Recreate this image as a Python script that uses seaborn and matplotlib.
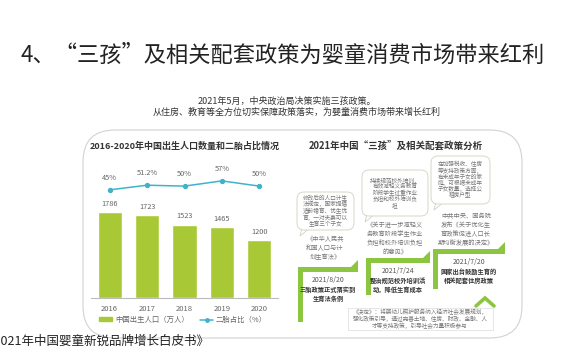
import numpy as np
import pandas as pd
import matplotlib
matplotlib.use('Agg')
import matplotlib.pyplot as plt
import matplotlib.patches as patches
from matplotlib.lines import Line2D
import seaborn as sns

# data
years = ['2016', '2017', '2018', '2019', '2020']
births = [1786, 1723, 1523, 1465, 1200]          # 中国出生人口（万人）
second_child = [45, 51.2, 50, 57, 50]            # 二胎占比（%）

title = '4、“三孩”及相关配套政策为婴童消费市场带来红利'
subtitle = ['2021年5月，中央政治局决策实施三孩政策。',
            '从住房、教育等全方位切实保障政策落实，为婴童消费市场带来增长红利']
left_title = '2016-2020年中国出生人口数量和二胎占比情况'
right_title = '2021年中国“三孩”及相关配套政策分析'
source = '《2021年中国婴童新锐品牌增长白皮书》'

step_dates = ['2021/8/20', '2021/7/24', '2021/7/20']
step_events = ['三胎政策正式落实到\n生育法条例',
               '整治规范校外培训活\n动，降低生育成本',
               '国家出台鼓励生育的\n相关配套住房政策']
step_docs = ['《中华人民共\n和国人口与计\n划生育法》',
             '《关于进一步减轻义\n务教育阶段学生作业\n负担和校外培训负担\n的意见》',
             '中共中央、国务院\n发布《关于优化生\n育政策促进人口长\n期均衡发展的决定》']
bubble_texts = ['修改后的人口计生\n法规定，国家提倡\n适龄婚育、优生优\n育，一对夫妻可以\n生育三个子女',
                '持续规范校外培训，\n有效减轻义务教育\n阶段学生过重作业\n负担和校外培训负\n担',
                '在加强税收、住房\n等支持政策方面，\n有未成年子女的家\n庭，可根据未成年\n子女数量，选择公\n租房户型']
decision_text = ('《决定》：将婴幼儿照护服务纳入经济社会发展规划，\n'
                 '强化政策引导，通过完善土地、住房、财政、金融、人\n'
                 '才等支持政策，引导社会力量积极参与')

sns.set_theme(style='white')
plt.rcParams['font.family'] = ['Noto Sans CJK SC', 'DejaVu Sans']

bar_color = '#a8c935'
line_color = '#3fb4c9'
step_color = '#8cc53f'
W, H = 570, 360

fig = plt.figure(figsize=(5.7, 3.6), dpi=100)
fig.patch.set_facecolor('white')

# background axes in pixel coords (y from top)
bg = fig.add_axes([0, 0, 1, 1], zorder=0)
bg.set_xlim(0, W)
bg.set_ylim(H, 0)
bg.axis('off')

bg.text(283, 55, title, ha='center', va='center', fontsize=16,
        fontweight='light', color='#222222')
bg.text(287, 101, subtitle[0], ha='center', va='center', fontsize=6.5, color='#333333')
bg.text(297, 112, subtitle[1], ha='center', va='center', fontsize=6.5, color='#333333')

# big rounded frame
frame = patches.FancyBboxPatch((83, 130), 439, 208,
                               boxstyle='round,pad=0,rounding_size=32',
                               fc='white', ec='#d2d2d2', lw=0.8)
bg.add_patch(frame)

bg.text(90, 146, left_title, ha='left', va='center', fontsize=6.5,
        fontweight='bold', color='#333333')
bg.text(396, 146, right_title, ha='center', va='center', fontsize=6.8,
        fontweight='bold', color='#333333')

# staircase of policy steps
corners = [(298, 267), (366, 258), (433, 249)]
widths = [58, 62, 70]
drops = [55, 37, 40]
for (cx, cy), w, d, date, ev, doc in zip(corners, widths, drops, step_dates, step_events, step_docs):
    bg.add_patch(patches.Rectangle((cx, cy), w, 4.5, fc=step_color, ec='none'))
    bg.add_patch(patches.Rectangle((cx, cy), 4.5, d, fc=step_color, ec='none'))
    bg.add_patch(patches.Polygon([(cx + w - 10, cy + 4.5), (cx + w + 2, cy + 4.5),
                                  (cx + w + 2, cy - 7)], closed=True,
                                 fc=step_color, ec='none'))
    mid = cx + w / 2 + 1
    bg.text(mid, cy + 13, date, ha='center', va='center', fontsize=5, color='#555555')
    bg.text(mid, cy + 27, ev, ha='center', va='center', fontsize=4.5,
            fontweight='bold', color='#333333', linespacing=1.3)
    bg.text(mid - 3, cy - 19, doc, ha='center', va='center', fontsize=4.5,
            color='#777777', linespacing=1.2)

# speech bubbles
bubbles = [(297, 192, 354, 230), (362, 170, 428, 216), (431, 156, 490, 204)]
for (x0, y0, x1, y1), txt in zip(bubbles, bubble_texts):
    bg.add_patch(patches.Polygon([(x0 + 5, y1 - 2), (x0 + 13, y1 - 2), (x0 + 3, y1 + 6)],
                                 closed=True, fc='white', ec='#cfd3c0', lw=0.6, zorder=2))
    bg.add_patch(patches.FancyBboxPatch((x0, y0), x1 - x0, y1 - y0,
                                        boxstyle='round,pad=0,rounding_size=7',
                                        fc='white', ec='#cfd3c0', lw=0.6, zorder=3))
    bg.text((x0 + x1) / 2, (y0 + y1) / 2, txt, ha='center', va='center',
            fontsize=4.1, color='#777777', linespacing=1.05, zorder=4)

# decision box and chevron
bg.add_patch(patches.Rectangle((348, 308), 145, 22, fc='white', ec='#e2e2e2', lw=0.6))
bg.text(420, 319, decision_text, ha='center', va='center', fontsize=4.1,
        color='#777777', linespacing=1.2)
bg.plot([476, 485, 494], [306, 298, 306], color=step_color, lw=2.6,
        solid_joinstyle='miter')

bg.text(-19, 341, source, ha='left', va='center', fontsize=9, color='#222222')

# bar + line chart
ax = fig.add_axes([91 / W, 1 - 298 / H, 187 / W, 138 / H], zorder=2)
ax.patch.set_alpha(0)
sns.barplot(x=years, y=births, color=bar_color, width=0.65, saturation=1, ax=ax)
ax.set_ylim(0, 2866)
ax.bar_label(ax.containers[0], padding=3, fontsize=5.3, color='#666666')
ax.set_yticks([])
ax.set_ylabel('')
ax.tick_params(axis='x', length=0, pad=5, labelsize=5.5, labelcolor='#666666')
sns.despine(ax=ax, left=True)
ax.spines['bottom'].set_color('#bbbbbb')
ax.spines['bottom'].set_linewidth(0.8)

ax2 = ax.twinx()
sns.pointplot(x=years, y=second_child, color=line_color, markers='o',
              markersize=3, linewidth=1.1, ax=ax2)
ax2.set_ylim(-100, 85)
ax2.set_xlim(-0.5, 4.5)
ax2.axis('off')
for i, v in enumerate(second_child):
    ax2.annotate(f'{v:g}%', (i, v), xytext=(0, 6), textcoords='offset points',
                 ha='center', va='bottom', fontsize=5.3, color='#666666')

handles = [patches.Patch(color=bar_color),
           Line2D([0], [0], color=line_color, marker='o', markersize=2.5, lw=1.1)]
fig.legend(handles, ['中国出生人口（万人）', '二胎占比（%）'],
           loc='center', bbox_to_anchor=(183 / W, 1 - 320 / H), ncol=2,
           frameon=False, fontsize=5.3, handlelength=1.8, handleheight=0.5,
           columnspacing=1.5, handletextpad=0.4, labelcolor='#666666')

plt.savefig('out.png', dpi=100)
